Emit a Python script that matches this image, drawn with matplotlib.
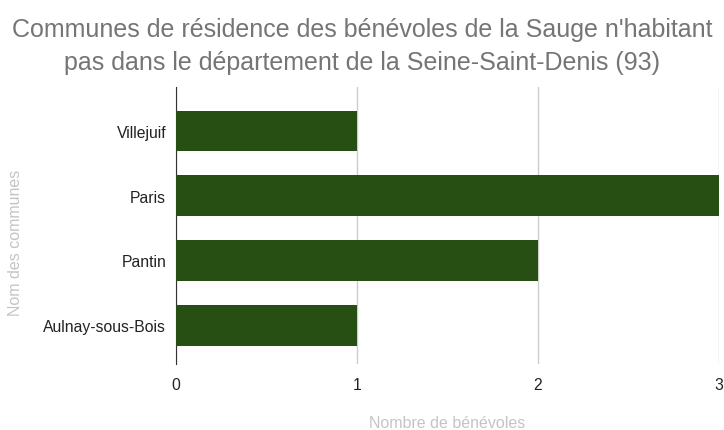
import matplotlib
matplotlib.use("Agg")
import matplotlib.pyplot as plt

communes = ["Aulnay-sous-Bois", "Pantin", "Paris", "Villejuif"]
benevoles = [1, 2, 3, 1]
ticks_x = [0, 1, 2, 3]

plt.rcParams['font.family'] = ['Liberation Sans', 'DejaVu Sans']

fig = plt.figure(figsize=(7.24, 4.31), dpi=100)
ax = fig.add_axes([0.243, 0.153, 0.750, 0.643])

pos = list(range(len(communes)))
ax.barh(pos, benevoles, height=0.63, color="#274e13", zorder=3)

ax.set_xlim(0, 3)
ax.set_ylim(-0.6, 3.68)
ax.set_yticks(pos)
ax.set_yticklabels(communes)
ax.set_xticks(ticks_x)
ax.xaxis.grid(True, color="#cccccc", linewidth=1, zorder=0)

for s in ["top", "right", "bottom"]:
    ax.spines[s].set_visible(False)
ax.spines["left"].set_color("#333333")
ax.tick_params(axis="both", length=0, labelsize=11.3, colors="#222222")
ax.tick_params(axis="x", pad=9)
ax.tick_params(axis="y", pad=7)

ax.set_xlabel("Nombre de bénévoles", color="#c4c4c4", fontsize=11.5)
ax.xaxis.set_label_coords(0.5, -0.185)
ax.set_ylabel("Nom des communes", color="#c4c4c4", fontsize=11.5)
ax.yaxis.set_label_coords(-0.282, 0.44)

fig.suptitle("Communes de résidence des bénévoles de la Sauge n'habitant\n"
             "pas dans le département de la Seine-Saint-Denis (93)",
             color="#757575", fontsize=18, y=0.958, linespacing=1.45)

fig.savefig("out.png", dpi=100)
